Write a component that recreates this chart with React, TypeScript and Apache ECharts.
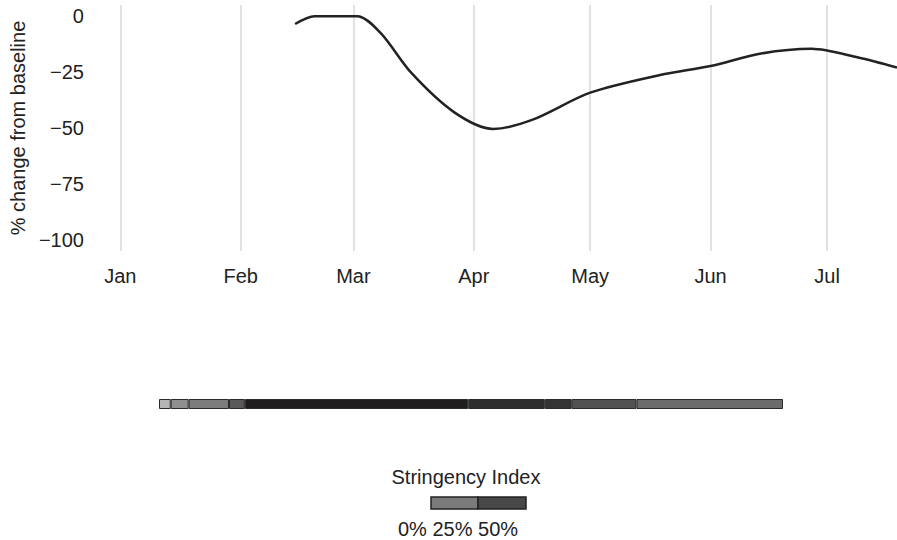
import React, { useEffect, useRef } from "react";
import * as echarts from "echarts";

// Month axis (days since Jan 1, 2020)
const monthNames = ["Jan", "Feb", "Mar", "Apr", "May", "Jun", "Jul"];
const monthStartDays = [0, 31, 60, 91, 121, 152, 182];
const yTicks = [0, -25, -50, -75, -100];

// Mobility line: day of year, % change from baseline
const lineDays = [45, 50, 61, 67, 75, 86, 96, 106, 121, 139, 152, 165, 178, 190, 200];
const lineValues = [-3.5, 0, 0, -7.5, -25.5, -43, -50.4, -46.4, -34.2, -26.3, -22.3, -16.7, -14.6, -18.5, -23];

// Stringency strip: segment durations (days) and fill shades
const stringencyDurations = [3.4, 5.2, 11.7, 4.6, 64.8, 22.2, 7.8, 18.8, 42.5];
const stringencyShades = ["#b5b5b5", "#8f8f8f", "#7c7c7c", "#595959", "#1f1d1e", "#2d2d2d", "#333333", "#525252", "#6b6b6b"];

// Legend
const legendTitle = "Stringency Index";
const legendLabels = ["0%", "25%", "50%"];
const legendShades = ["#7b7b7b", "#484848"];

const FONT = "'Liberation Sans', Arial, Helvetica, sans-serif";
const TXT = "#222";

function minus(v: number): string {
  return v < 0 ? "\u2212" + Math.abs(v) : String(v);
}

export default function App() {
  const ref = useRef<HTMLDivElement>(null);
  useEffect(() => {
    if (!ref.current) return;
    const chart = echarts.init(ref.current, null, { renderer: "svg" });
    const total = stringencyDurations.reduce((a, b) => a + b, 0);
    const stripSeries = stringencyDurations.map((d, i) => ({
      type: "bar",
      stack: "strip",
      xAxisIndex: 1,
      yAxisIndex: 1,
      barWidth: 10,
      data: [d],
      silent: true,
      itemStyle: { color: stringencyShades[i], borderColor: "#2a2a2a", borderWidth: 1 },
    }));
    chart.setOption({
      animation: false,
      textStyle: { fontFamily: FONT },
      grid: [
        { left: 100, right: 0, top: 5, bottom: 289 },
        { left: 159, top: 399, width: 624, height: 10 },
      ],
      xAxis: [
        {
          type: "value",
          gridIndex: 0,
          min: -5,
          max: 200,
          axisLine: { show: false },
          axisTick: { show: false },
          splitLine: { show: false },
          axisLabel: {
            customValues: monthStartDays,
            formatter: (v: number) => monthNames[monthStartDays.indexOf(v)] ?? "",
            color: TXT,
            fontSize: 20,
            fontFamily: FONT,
            margin: 15,
          },
        },
        { type: "value", gridIndex: 1, min: 0, max: total, show: false },
      ],
      yAxis: [
        {
          type: "value",
          gridIndex: 0,
          min: -105,
          max: 5,
          name: "% change from baseline",
          nameLocation: "middle",
          nameGap: 65,
          nameTextStyle: { color: TXT, fontSize: 20, fontFamily: FONT },
          axisLine: { show: false },
          axisTick: { show: false },
          splitLine: { show: false },
          axisLabel: {
            customValues: yTicks,
            formatter: (v: number) => minus(v),
            color: TXT,
            fontSize: 20,
            fontFamily: FONT,
            margin: 17,
          },
        },
        { type: "category", gridIndex: 1, data: ["s"], show: false },
      ],
      series: [
        {
          type: "line",
          xAxisIndex: 0,
          yAxisIndex: 0,
          data: lineDays.map((d, i) => [d, lineValues[i]]),
          smooth: 0.3,
          showSymbol: false,
          lineStyle: { color: "#222", width: 2.5 },
          silent: true,
          z: 3,
          markLine: {
            silent: true,
            symbol: ["none", "none"],
            label: { show: false },
            lineStyle: { color: "#d9d9d9", width: 1.5, type: "solid" },
            emphasis: { disabled: true },
            data: monthStartDays.map((d) => ({ xAxis: d })),
            z: 1,
          },
        },
        ...stripSeries,
      ],
      graphic: [
        {
          type: "text",
          x: 466,
          y: 477,
          style: {
            text: legendTitle,
            fill: TXT,
            font: `20px ${FONT}`,
            textAlign: "center",
            textVerticalAlign: "middle",
          },
        },
        {
          type: "rect",
          shape: { x: 431, y: 497, width: 47, height: 12 },
          style: { fill: legendShades[0], stroke: "#222", lineWidth: 1.5 },
        },
        {
          type: "rect",
          shape: { x: 478, y: 497, width: 48, height: 12 },
          style: { fill: legendShades[1], stroke: "#222", lineWidth: 1.5 },
        },
        {
          type: "text",
          x: 458,
          y: 529,
          style: {
            text: legendLabels.join(" "),
            fill: TXT,
            font: `20px ${FONT}`,
            textAlign: "center",
            textVerticalAlign: "middle",
          },
        },
      ],
    });
    return () => chart.dispose();
  }, []);
  return <div ref={ref} style={{ position: "absolute", left: 0, top: 0, width: 897, height: 540 }} />;
}
